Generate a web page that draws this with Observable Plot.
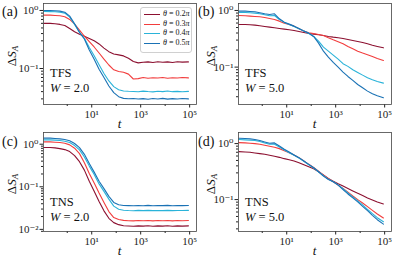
<!DOCTYPE html>
<html><head><meta charset="utf-8">
<script src="https://cdn.jsdelivr.net/npm/d3@7"></script>
<script src="https://cdn.jsdelivr.net/npm/@observablehq/plot@0.6"></script>
<style>
body{margin:0;background:#fff;}
#chart{position:relative;width:399px;height:261px;overflow:hidden;font-family:"Liberation Serif","Times New Roman",Times,"DejaVu Serif",serif;color:#111;}
.panel{position:absolute;}
.lbl{position:absolute;white-space:nowrap;line-height:1;}
.legend{position:absolute;border:1px solid #d0d0d0;border-radius:3px;background:rgba(255,255,255,0.85);}
.lrow{position:absolute;left:0;white-space:nowrap;font-size:8px;line-height:1;}
.lline{position:absolute;height:0;border-top:1.2px solid;}
</style></head><body><div id="chart"></div><script>
// log10 of time t at the sampled points
const logT = [-0.95,-0.7,-0.5,-0.3,-0.1,0.1,0.3,0.5,0.7,0.9,1.1,1.3,1.5,1.7,1.9,2.1,2.3,2.5,2.7,2.9,3.1,3.3,3.5,3.7,3.9,4.1,4.3,4.5,4.7,4.95];
const thetas = ["0.2π","0.3π","0.4π","0.5π"];
const colors = ["#8c1030","#f23d3d","#2ab3d9","#1a72b5"];
const xMajor = [1e1,1e3,1e5];
const xMinor = [1e0,1e2,1e4];

// (a) TFS, W = 2.0
const a02 = [0.60,0.60,0.59,0.575,0.55,0.49,0.43,0.39,0.36,0.33,0.30,0.265,0.225,0.195,0.178,0.172,0.165,0.15,0.132,0.125,0.128,0.13,0.127,0.131,0.128,0.13,0.127,0.131,0.129,0.13];
const a03 = [0.83,0.83,0.82,0.81,0.78,0.70,0.58,0.46,0.36,0.29,0.235,0.185,0.145,0.115,0.095,0.089,0.086,0.080,0.066,0.067,0.070,0.068,0.0695,0.0685,0.0698,0.068,0.0695,0.0688,0.070,0.069];
const a04 = [0.96,0.955,0.948,0.93,0.90,0.766,0.572,0.42,0.331,0.231,0.166,0.116,0.0819,0.0611,0.0487,0.0432,0.041,0.0405,0.0402,0.0398,0.0408,0.0401,0.0396,0.0405,0.040,0.0409,0.0399,0.0404,0.0397,0.0403];
const a05 = [1.0,1.0,0.99,0.975,0.93,0.80,0.59,0.42,0.323,0.208,0.145,0.0973,0.0698,0.050,0.0384,0.0327,0.0306,0.0302,0.0305,0.0298,0.0303,0.0296,0.0304,0.0299,0.0306,0.0297,0.0303,0.0299,0.0305,0.030];
// (b) TFS, W = 5.0
const b02 = [0.566,0.566,0.558,0.551,0.536,0.522,0.508,0.495,0.481,0.469,0.456,0.444,0.426,0.409,0.393,0.382,0.372,0.362,0.348,0.338,0.33,0.321,0.308,0.296,0.284,0.272,0.258,0.244,0.232,0.219];
const b03 = [0.816,0.805,0.794,0.784,0.773,0.752,0.723,0.694,0.648,0.598,0.566,0.529,0.475,0.432,0.404,0.393,0.377,0.362,0.33,0.303,0.28,0.258,0.232,0.211,0.191,0.177,0.165,0.154,0.142,0.131];
const b04 = [0.922,0.922,0.91,0.897,0.873,0.839,0.805,0.816,0.694,0.614,0.566,0.522,0.475,0.432,0.393,0.348,0.288,0.225,0.191,0.163,0.138,0.115,0.103,0.0897,0.0805,0.0722,0.0648,0.0598,0.0559,0.0522];
const b05 = [0.973,0.973,0.96,0.947,0.91,0.873,0.85,0.873,0.713,0.622,0.574,0.529,0.481,0.432,0.398,0.348,0.265,0.191,0.15,0.121,0.1,0.0817,0.0684,0.0582,0.0494,0.0432,0.0377,0.0339,0.0312,0.0288];
// (c) TNS, W = 2.0
const c02 = [0.834,0.834,0.819,0.789,0.747,0.670,0.538,0.388,0.246,0.135,0.0782,0.0453,0.0272,0.0182,0.0144,0.0129,0.0122,0.0120,0.0118,0.0121,0.0119,0.0122,0.0118,0.0121,0.0119,0.0122,0.0118,0.0121,0.0119,0.0121];
const c03 = [1.136,1.136,1.115,1.095,1.056,0.964,0.804,0.601,0.367,0.205,0.123,0.0714,0.0429,0.0262,0.0189,0.017,0.0163,0.0160,0.0158,0.0161,0.0159,0.0162,0.0158,0.0161,0.0159,0.0162,0.0158,0.0161,0.0160,0.0161];
const c04 = [1.267,1.267,1.244,1.222,1.178,1.095,0.93,0.734,0.501,0.306,0.194,0.117,0.0782,0.0514,0.0351,0.0298,0.0282,0.0277,0.0274,0.0279,0.0276,0.0280,0.0275,0.0278,0.0276,0.0280,0.0275,0.0278,0.0277,0.0279];
const c05 = [1.387,1.387,1.362,1.337,1.29,1.2,1.037,0.834,0.579,0.354,0.221,0.135,0.0906,0.0596,0.0429,0.0378,0.0364,0.0362,0.0358,0.0365,0.0360,0.0366,0.0359,0.0363,0.0361,0.0366,0.0359,0.0364,0.0361,0.0364];
// (d) TNS, W = 5.0
const d02 = [0.718,0.709,0.699,0.68,0.661,0.643,0.617,0.592,0.568,0.538,0.516,0.489,0.456,0.42,0.386,0.356,0.314,0.274,0.238,0.213,0.191,0.174,0.158,0.143,0.13,0.118,0.107,0.0987,0.0908,0.0836];
const d03 = [1.042,1.028,1.014,1.0,0.973,0.933,0.896,0.859,0.813,0.748,0.689,0.626,0.561,0.489,0.426,0.376,0.323,0.274,0.235,0.208,0.181,0.158,0.136,0.116,0.1,0.0871,0.0748,0.0643,0.0553,0.0469];
const d04 = [1.18,1.164,1.148,1.132,1.086,1.028,0.973,0.973,0.871,0.769,0.689,0.617,0.553,0.482,0.42,0.366,0.314,0.266,0.232,0.208,0.183,0.156,0.132,0.112,0.0946,0.0802,0.067,0.0561,0.0475,0.0403];
const d05 = [1.247,1.23,1.213,1.18,1.132,1.071,1.014,1.028,0.908,0.791,0.709,0.626,0.561,0.489,0.426,0.371,0.314,0.262,0.229,0.208,0.181,0.151,0.126,0.107,0.0908,0.0759,0.0634,0.0523,0.0437,0.0365];

const panelLetters = ["(a)","(b)","(c)","(d)"];
const phaseNames = ["TFS","TFS","TNS","TNS"];
const disorder = ["2.0","5.0","2.0","5.0"];

const serif = '"Liberation Serif","Times New Roman",Times,"DejaVu Serif",serif';
const sup = {"-":"⁻","0":"⁰","1":"¹","2":"²","3":"³","4":"⁴","5":"⁵"};
const supFmt = d => "10" + String(Math.round(Math.log10(d))).split("").map(c => sup[c]).join("");

const chart = document.getElementById("chart");
function addText(html, x, y, css) {
  const el = document.createElement("div");
  el.className = "lbl";
  el.innerHTML = html;
  el.style.left = x + "px"; el.style.top = y + "px";
  Object.assign(el.style, css || {});
  chart.appendChild(el);
  return el;
}

const layout = [
  {left:0,   top:0,   w:199, h:130, ml:43, mr:3, mt:3, mb:26, lx:2,  yDom:[10**-1.62, 10**0.12], yMajor:[1e-1,1e0], series:[a02,a03,a04,a05]},
  {left:199, top:0,   w:200, h:130, ml:39, mr:8, mt:3, mb:26, lx:-1, yDom:[10**-1.66, 10**0.123], yMajor:[1e-1,1e0], series:[b02,b03,b04,b05]},
  {left:0,   top:130, w:199, h:131, ml:43, mr:3, mt:2, mb:30, lx:2,  yDom:[10**-2.05, 10**0.275], yMajor:[1e-2,1e-1,1e0], series:[c02,c03,c04,c05]},
  {left:199, top:130, w:200, h:131, ml:39, mr:8, mt:2, mb:30, lx:-1, yDom:[10**-1.57, 10**0.198], yMajor:[1e-1,1e0], series:[d02,d03,d04,d05]}
];
const xDom = [10**-0.97, 10**5.28];

layout.forEach((p, i) => {
  const data = [];
  p.series.forEach((vals, s) => vals.forEach((v, j) => data.push({t: 10 ** logT[j], v, theta: thetas[s]})));
  const yMinor = [];
  for (let k = -3; k <= 1; k++) for (let m = 2; m <= 9; m++) {
    const v = m * 10 ** k;
    if (v > p.yDom[0] && v < p.yDom[1]) yMinor.push(v);
  }
  const svg = Plot.plot({
    width: p.w, height: p.h,
    marginLeft: p.ml, marginRight: p.mr, marginTop: p.mt, marginBottom: p.mb,
    x: {type: "log", domain: xDom},
    y: {type: "log", domain: p.yDom},
    color: {domain: thetas, range: colors},
    style: {fontFamily: serif, fontSize: "11px", color: "#222", background: "transparent", overflow: "visible"},
    marks: [
      Plot.axisX({ticks: xMinor, tickFormat: () => "", tickSize: 2, label: null}),
      Plot.axisX({ticks: xMajor, tickFormat: supFmt, tickSize: 3.5, tickPadding: 2, label: null, fontFamily: serif}),
      Plot.axisY({ticks: yMinor, tickFormat: () => "", tickSize: 2, label: null}),
      Plot.axisY({ticks: p.yMajor, tickFormat: supFmt, tickSize: 3.5, tickPadding: 1.5, label: null, fontFamily: serif}),
      Plot.line(data, {x: "t", y: "v", z: "theta", stroke: "theta", strokeWidth: 1.1, clip: true}),
      Plot.frame({stroke: "#444", strokeWidth: 0.8})
    ]
  });
  const wrap = document.createElement("div");
  wrap.className = "panel";
  wrap.style.left = p.left + "px"; wrap.style.top = p.top + "px";
  wrap.appendChild(svg);
  chart.appendChild(wrap);

  const fx0 = p.left + p.ml, fx1 = p.left + p.w - p.mr;
  const fy0 = p.top + p.mt, fy1 = p.top + p.h - p.mb;
  addText(panelLetters[i], p.left + p.lx, p.top + 12, {fontSize: "14px", transform: "translateY(-50%)"});
  addText('Δ<i>S</i><sub style="font-size:9px;vertical-align:-2px"><i>A</i></sub>', p.left + 12, (fy0 + fy1) / 2 + 2,
    {fontSize: "13px", transform: "translate(-50%,-50%) rotate(-90deg)"});
  addText("<i>t</i>", (fx0 + fx1) / 2, fy1 + 19, {fontSize: "13px", transform: "translate(-50%,-50%)"});
  addText(phaseNames[i], fx0 + 7, fy0 + 70, {fontSize: "12.5px", transform: "translateY(-50%)"});
  addText("<i>W</i> = " + disorder[i], fx0 + 7, fy0 + 85, {fontSize: "12.5px", transform: "translateY(-50%)"});
});

// legend in panel (a)
const leg = document.createElement("div");
leg.className = "legend";
Object.assign(leg.style, {left: "140px", top: "7px", width: "50px", height: "44px"});
thetas.forEach((th, i) => {
  const ln = document.createElement("div");
  ln.className = "lline";
  Object.assign(ln.style, {left: "3px", width: "16px", top: (6 + i * 9.7) + "px", borderTopColor: colors[i]});
  leg.appendChild(ln);
  const tx = document.createElement("div");
  tx.className = "lrow";
  tx.innerHTML = "<i>θ</i> = " + th.replace("π", "<i>π</i>");
  Object.assign(tx.style, {left: "22px", top: (6 + i * 9.7) + "px", transform: "translateY(-50%)"});
  leg.appendChild(tx);
});
chart.appendChild(leg);
</script></body></html>
